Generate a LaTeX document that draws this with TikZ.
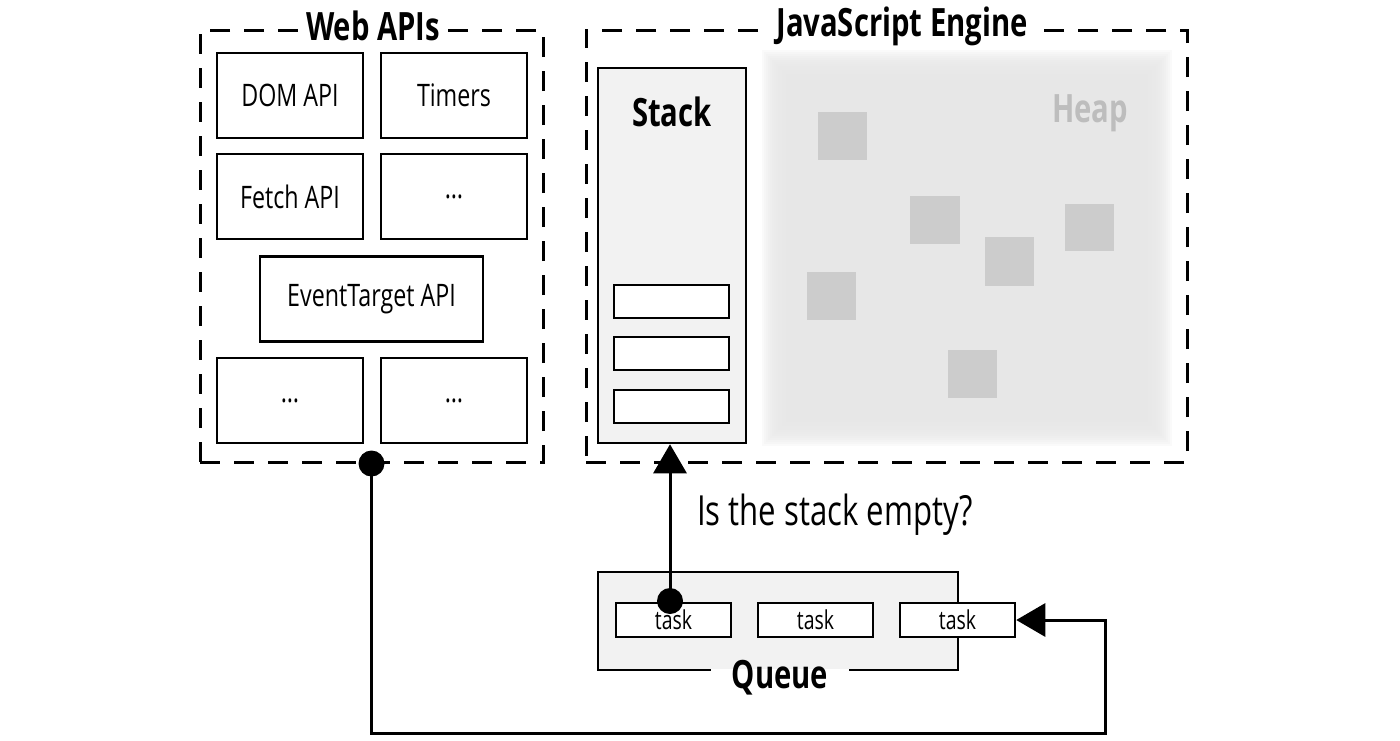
\documentclass[tikz,border=0pt]{standalone}
\usepackage{fontspec}
\setmainfont[FakeStretch=0.75]{Open Sans}
\usetikzlibrary{arrows.meta}
\definecolor{panelgray}{HTML}{F2F2F2}
\definecolor{heapgray}{HTML}{E6E6E6}
\definecolor{blockgray}{HTML}{CCCCCC}
\definecolor{heaptext}{HTML}{BDBDBD}
\tikzset{
zone/.style={draw, line width=3pt, dash pattern=on 20pt off 14pt, inner sep=0pt},
title/.style={font=\fontsize{39}{44}\selectfont\bfseries, inner xsep=8pt, inner ysep=2pt},
apibox/.style={draw, line width=2.5pt, minimum width=146pt, minimum height=85pt, inner sep=0pt, font=\fontsize{31}{36}\selectfont},
panel/.style={draw, fill=panelgray, line width=2.5pt, inner sep=0pt},
framebox/.style={draw, fill=white, line width=2.5pt, minimum width=115pt, minimum height=34pt, inner sep=0pt, font=\fontsize{26}{30}\selectfont},
blob/.style={fill=blockgray},
link/.style={line width=3pt, -{Triangle[width=33pt,length=29pt]}},
dot/.style={fill=black}
}
\begin{document}
\begin{tikzpicture}[x=1pt, y=-1pt]
  \useasboundingbox (0,0) rectangle (1400,740);
  \foreach \i in {0,...,13}
    \fill[heapgray, opacity=0.2] (762+2*\i, 50+2*\i) rectangle (1172-2*\i, 446-2*\i);
  \fill[blob] (818,112) rectangle (867,160);
  \fill[blob] (910,196) rectangle (960,244);
  \fill[blob] (985,237) rectangle (1034,286);
  \fill[blob] (1065,204) rectangle (1114,251);
  \fill[blob] (807,272) rectangle (856,320);
  \fill[blob] (948,350) rectangle (997,398);
  \node[title, anchor=base, text=heaptext] (heap) at (1090,122) {Heap};

  \node[zone, minimum width=343pt, minimum height=432pt] (webapis) at (371.5,246) {};
  \node[zone, minimum width=601pt, minimum height=432pt] (engine) at (886.5,246) {};
  \node[title, anchor=base, fill=white] (webtitle) at (373,40) {Web APIs};
  \node[title, anchor=base, fill=white] (enginetitle) at (902,36) {JavaScript Engine};

  \node[apibox] (dom) at (290,95.5) {DOM API};
  \node[apibox] (timers) at (454,95.5) {Timers};
  \node[apibox] (fetch) at (290,196.5) {Fetch API};
  \node[apibox] (more1) at (454,196.5) {…};
  \node[apibox, minimum width=223pt] (events) at (371.5,299) {EventTarget API};
  \node[apibox] (more2) at (290,400.5) {…};
  \node[apibox] (more3) at (454,400.5) {…};

  \node[panel, minimum width=148pt, minimum height=375pt] (stack) at (672,255.5) {};
  \node[title, anchor=base] (stacktitle) at (672,126) {Stack};
  \node[framebox, minimum height=33pt] (frame1) at (671.5,301.5) {};
  \node[framebox, minimum height=33pt] (frame2) at (671.5,353.5) {};
  \node[framebox, minimum height=33pt] (frame3) at (671.5,406.5) {};

  \node[panel, minimum width=360pt, minimum height=98pt] (queue) at (778,621) {};
  \draw[white, line width=4pt] ([xshift=-67pt]queue.south) -- ([xshift=71pt]queue.south);
  \node[title, anchor=base] (queuetitle) at (780,688) {Queue};
  \node[framebox] (task1) at (673.5,620) {task};
  \node[framebox] (task2) at (815.5,620) {task};
  \node[framebox] (task3) at (957.5,620) {task};

  \coordinate (qdot) at (670,601);
  \coordinate (loop) at (1105,733);
  \draw[link] (qdot) -- (qdot |- stack.south);
  \fill[dot] (qdot) circle [radius=13];
  \node[anchor=base west, inner sep=0pt, font=\fontsize{41.5}{47}\selectfont] (question) at (697,525) {Is the stack empty?};

  \draw[link] (webapis.south) |- (loop) |- (task3.east);
  \fill[dot] (webapis.south) circle [radius=13];
\end{tikzpicture}
\end{document}
